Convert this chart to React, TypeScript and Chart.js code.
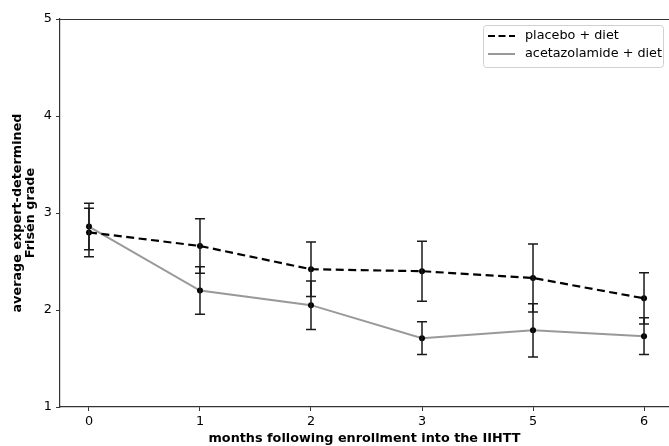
import React, { useEffect, useRef } from "react";
import { Chart, registerables } from "chart.js";

Chart.register(...registerables);

const months = ["0", "1", "2", "3", "5", "6"];
const placeboMean = [2.8, 2.66, 2.42, 2.4, 2.33, 2.12];
const placeboErr = [0.25, 0.28, 0.28, 0.31, 0.35, 0.265];
const acetaMean = [2.86, 2.2, 2.05, 1.71, 1.79, 1.73];
const acetaErr = [0.24, 0.245, 0.25, 0.17, 0.275, 0.19];
const yTicks = [1, 2, 3, 4, 5];
const seriesNames = ["placebo + diet", "acetazolamide + diet"];
const errs = [placeboErr, acetaErr];

const FONT = "'DejaVu Sans', sans-serif";
const FS = 12.8;

const errorBarPlugin = {
  id: "errorBars",
  afterDatasetsDraw(chart: any) {
    const ctx = chart.ctx;
    const xs = chart.scales.x;
    const ys = chart.scales.y;
    ctx.save();
    ctx.strokeStyle = "#1a1a1a";
    ctx.lineWidth = 1.5;
    ctx.setLineDash([]);
    chart.data.datasets.forEach((ds: any, di: number) => {
      ds.data.forEach((p: any, i: number) => {
        const e = errs[di][i];
        const x = xs.getPixelForValue(p.x);
        const y1 = ys.getPixelForValue(p.y + e);
        const y2 = ys.getPixelForValue(p.y - e);
        ctx.beginPath();
        ctx.moveTo(x, y1);
        ctx.lineTo(x, y2);
        ctx.moveTo(x - 5, y1);
        ctx.lineTo(x + 5, y1);
        ctx.moveTo(x - 5, y2);
        ctx.lineTo(x + 5, y2);
        ctx.stroke();
      });
    });
    ctx.restore();
  },
  afterDraw(chart: any) {
    const ctx = chart.ctx;
    const a = chart.chartArea;
    ctx.save();
    // top spine
    ctx.strokeStyle = "#333";
    ctx.lineWidth = 1.2;
    ctx.beginPath();
    ctx.moveTo(a.left, a.top + 0.5);
    ctx.lineTo(a.right, a.top + 0.5);
    ctx.stroke();
    // legend
    const bx = a.right - 186;
    const by = a.top + 6;
    const bw = 180;
    const bh = 42;
    ctx.fillStyle = "rgba(255,255,255,0.85)";
    ctx.strokeStyle = "#d0d0d0";
    ctx.lineWidth = 1;
    ctx.beginPath();
    (ctx as any).roundRect(bx + 0.5, by + 0.5, bw, bh, 3);
    ctx.fill();
    ctx.stroke();
    const styles = [
      { color: "#000", dash: [7, 3.5] },
      { color: "#999", dash: [] },
    ];
    ctx.font = FS + "px " + FONT;
    ctx.textBaseline = "middle";
    ctx.fillStyle = "#000";
    seriesNames.forEach((name, i) => {
      const ly = by + 11 + i * 18;
      ctx.strokeStyle = styles[i].color;
      ctx.lineWidth = 2;
      ctx.setLineDash(styles[i].dash);
      ctx.beginPath();
      ctx.moveTo(bx + 5, ly);
      ctx.lineTo(bx + 32, ly);
      ctx.stroke();
      ctx.setLineDash([]);
      ctx.fillStyle = "#000";
      ctx.fillText(name, bx + 42, ly);
    });
    ctx.restore();
  },
};

export default function App() {
  const ref = useRef<HTMLCanvasElement>(null);
  useEffect(() => {
    if (!ref.current) return;
    const placeboData = placeboMean.map((v, i) => ({ x: i, y: v }));
    const acetaData = acetaMean.map((v, i) => ({ x: i, y: v }));
    const chart = new Chart(ref.current, {
      type: "line",
      data: {
        datasets: [
          {
            label: seriesNames[0],
            data: placeboData,
            borderColor: "#000",
            borderWidth: 2.2,
            borderDash: [8, 4.5],
            pointRadius: 3,
            pointBackgroundColor: "#000",
            pointBorderColor: "#000",
            pointBorderWidth: 0,
            fill: false,
            tension: 0,
          },
          {
            label: seriesNames[1],
            data: acetaData,
            borderColor: "#999",
            borderWidth: 2,
            pointRadius: 3,
            pointBackgroundColor: "#000",
            pointBorderColor: "#000",
            pointBorderWidth: 0,
            fill: false,
            tension: 0,
          },
        ],
      },
      options: {
        animation: false,
        responsive: false,
        devicePixelRatio: 1,
        layout: { autoPadding: false, padding: { top: 19, left: 0, right: 0, bottom: 0 } },
        plugins: {
          legend: { display: false },
          tooltip: { enabled: false },
        },
        scales: {
          x: {
            type: "linear",
            min: -0.261,
            max: 5.225,
            afterBuildTicks: (s: any) => {
              s.ticks = months.map((_, i) => ({ value: i }));
            },
            afterFit: (s: any) => {
              s.height = 39;
            },
            ticks: {
              callback: (v: any) => months[v as number] ?? "",
              font: { family: FONT, size: FS },
              color: "#000",
              padding: 3,
              maxRotation: 0,
              autoSkip: false,
            },
            grid: {
              drawOnChartArea: false,
              drawTicks: true,
              tickLength: 4,
              color: "#333",
            },
            border: { display: true, color: "#333", width: 1.2 },
            title: {
              display: true,
              text: "months following enrollment into the IIHTT",
              font: { family: FONT, size: FS, weight: "bold" },
              color: "#000",
              padding: 0,
            },
          },
          y: {
            type: "linear",
            min: 1,
            max: 5,
            afterBuildTicks: (s: any) => {
              s.ticks = yTicks.map((v) => ({ value: v }));
            },
            afterFit: (s: any) => {
              s.width = 60;
            },
            ticks: {
              font: { family: FONT, size: FS },
              color: "#000",
              padding: 4,
            },
            grid: {
              drawOnChartArea: false,
              drawTicks: true,
              tickLength: 4,
              color: "#333",
            },
            border: { display: true, color: "#333", width: 1.2 },
            title: {
              display: true,
              text: ["average expert-determined", "Frisén grade"],
              font: { family: FONT, size: FS, weight: "bold", lineHeight: 1.0 },
              color: "#000",
              padding: { top: 11.5, bottom: 0 },
            },
          },
        },
      },
      plugins: [errorBarPlugin],
    });
    return () => chart.destroy();
  }, []);
  return (
    <div style={{ position: "absolute", left: 0, top: 0, width: 669, height: 446 }}>
      <canvas ref={ref} width={669} height={446} style={{ width: 669, height: 446 }} />
    </div>
  );
}
